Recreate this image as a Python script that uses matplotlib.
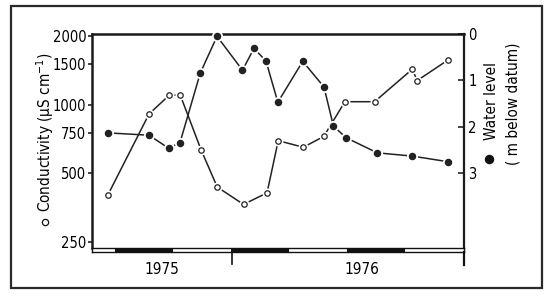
import matplotlib
matplotlib.use("Agg")
import matplotlib.pyplot as plt
import matplotlib.transforms as mtransforms
from matplotlib.patches import Rectangle
from matplotlib.lines import Line2D

plt.rcParams['font.family'] = ['Liberation Sans Narrow', 'DejaVu Sans']
plt.rcParams['font.stretch'] = 'condensed'

# ---- data (x = months from the start of the record) ----
cond_months = [1.62, 5.90, 7.99, 9.13, 11.27, 12.95, 15.67, 18.10, 19.26,
               21.85, 23.96, 26.16, 29.22, 33.12, 33.63, 36.77]
conductivity = [400, 910, 1100, 1100, 635, 435, 365, 410, 695,
                650, 725, 1030, 1030, 1430, 1275, 1565]

level_months = [1.62, 5.89, 7.93, 9.10, 11.20, 12.93, 15.56, 16.75, 17.99,
                19.22, 21.79, 23.99, 24.96, 26.24, 29.50, 33.12, 36.77]
water_level = [2.13, 2.18, 2.46, 2.34, 0.84, 0.05, 0.78, 0.31, 0.58,
               1.47, 0.59, 1.14, 1.98, 2.23, 2.56, 2.63, 2.75]

cond_ticks = [250, 500, 750, 1000, 1500, 2000]
level_ticks = [0, 1, 2, 3]
season_dark = [(2.4, 8.4), (14.4, 20.4), (26.4, 32.4)]
year_boundary = 14.48
year_labels = ['1975', '1976']
year_label_x = [7.24, 27.9]
x_max = 38.47

W, H = 550, 297
fig = plt.figure(figsize=(W / 100, H / 100), dpi=100)

def fx(px):
    return px / W

def fy(py):
    return (H - py) / H

# outer frame
fig.patches.append(Rectangle((fx(11), fy(288)), fx(542) - fx(11), fy(6) - fy(288),
                             transform=fig.transFigure, fill=False,
                             edgecolor='#2a2a2a', linewidth=1.6, zorder=0))

left, right, top, bottom = 92, 464, 34, 248
ax1 = fig.add_axes([fx(left), fy(bottom), fx(right) - fx(left), fy(top) - fy(bottom)])
ax2 = ax1.twinx()

fs = 10.5
fl = 11
# conductivity (log scale)
ax1.set_yscale('log')
ax1.set_ylim(235, 2041)
ax1.set_xlim(0, x_max)
ax1.set_yticks(cond_ticks)
ax1.set_yticklabels([str(t) for t in cond_ticks])
ax1.yaxis.set_minor_locator(matplotlib.ticker.NullLocator())
ax1.tick_params(axis='y', direction='out', length=3, width=1.1, pad=1,
                labelsize=fs, color='#111')
ax1.set_xticks([])
for s in ['right', 'bottom']:
    ax1.spines[s].set_visible(False)
for s in ['left', 'top']:
    ax1.spines[s].set_linewidth(1.8)
    ax1.spines[s].set_color('#1a1a1a')

lc = '#222222'
ax1.plot(cond_months, conductivity, color=lc, lw=1.1, zorder=2, clip_on=False)
ax1.plot(cond_months, conductivity, ls='none', marker='o', ms=6.2,
         mfc='white', mec='white', zorder=2.6, clip_on=False)
ax1.plot(cond_months, conductivity, ls='none', marker='o', ms=3.9,
         mfc='white', mec=lc, mew=0.9, zorder=3, clip_on=False)

# water level (inverted)
ax2.set_ylim(4.61, 0.0)
ax2.set_yticks(level_ticks)
ax2.set_yticklabels([str(t) for t in level_ticks])
ax2.tick_params(axis='y', direction='in', length=4, width=1.1, pad=3,
                labelsize=fs, color='#111')
for s in ['left', 'top', 'bottom']:
    ax2.spines[s].set_visible(False)
ax2.spines['right'].set_linewidth(1.6)
ax2.spines['right'].set_color('#1a1a1a')

ax2.plot(level_months, water_level, color=lc, lw=1.1, zorder=2, clip_on=False)
ax2.plot(level_months, water_level, ls='none', marker='o', ms=7.0,
         mfc='white', mec='white', zorder=2.6, clip_on=False)
ax2.plot(level_months, water_level, ls='none', marker='o', ms=4.4,
         mfc=lc, mec=lc, zorder=3, clip_on=False)

# season strip
axs = fig.add_axes([fx(left), fy(252), fx(right) - fx(left), fy(248) - fy(252)])
axs.set_xlim(0, x_max)
axs.set_ylim(0, 1)
axs.broken_barh([(a, b - a) for a, b in season_dark], (0, 1), facecolors='#111')
axs.set_xticks([])
axs.set_yticks([])
for s in axs.spines.values():
    s.set_linewidth(1.0)
    s.set_color('#111')

blend = mtransforms.blended_transform_factory(axs.transData, axs.transAxes)
axs.plot([year_boundary, year_boundary], [0, -3.0], color='#111', lw=1.2,
         transform=blend, clip_on=False)
axs.plot([x_max, x_max], [0, -3.25], color='#111', lw=1.6,
         transform=blend, clip_on=False)

blend_fig = mtransforms.blended_transform_factory(axs.transData, fig.transFigure)
for lab, xl in zip(year_labels, year_label_x):
    axs.text(xl, fy(270), lab, transform=blend_fig, ha='center', va='center',
             fontsize=fl)

# axis labels
fig.text(fx(45), fy(132), 'Conductivity (\u00b5S cm$^{-1}$)', rotation=90,
         ha='center', va='center', fontsize=fl)
fig.lines.append(Line2D([fx(45)], [fy(222)], marker='o', ms=4.5, mfc='white',
                        mec='#111', mew=0.9, transform=fig.transFigure))
fig.text(fx(491), fy(101), 'Water level', rotation=90, ha='center', va='center',
         fontsize=fl)
fig.text(fx(513), fy(104), '( m below datum)', rotation=90, ha='center',
         va='center', fontsize=fl)
fig.lines.append(Line2D([fx(489)], [fy(159)], marker='o', ms=5.8, color='#111',
                        transform=fig.transFigure))

fig.savefig('out.png', dpi=100)
